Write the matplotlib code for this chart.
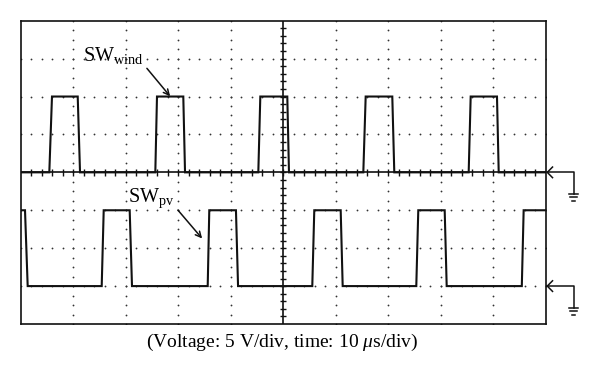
import numpy as np
import matplotlib
matplotlib.use('Agg')
from matplotlib import pyplot as plt

plt.rcParams['font.family'] = ['Liberation Serif', 'DejaVu Serif']
plt.rcParams['mathtext.fontset'] = 'custom'
plt.rcParams['mathtext.rm'] = 'Liberation Serif'
plt.rcParams['mathtext.it'] = 'Liberation Serif:italic'

# scope traces, in divisions (time div, voltage div)
wind_t = [0, 0.545, 0.596, 1.086, 1.13, 2.564, 2.596, 3.097, 3.13,
          4.526, 4.564, 5.078, 5.11, 6.526, 6.571, 7.078, 7.116,
          8.533, 8.571, 9.072, 9.105, 10]
wind_v = [0, 0, 2, 2, 0, 0, 2, 2, 0,
          0, 2, 2, 0, 0, 2, 2, 0,
          0, 2, 2, 0, 0]

pv_t = [0, 0.082, 0.133, 1.543, 1.581, 2.076, 2.12, 3.562, 3.592, 4.1, 4.14,
        5.554, 5.592, 6.095, 6.133, 7.535, 7.573, 8.076, 8.114, 9.545, 9.58, 10]
pv_v = [-1, -1, -3, -3, -1, -1, -3, -3, -1, -1, -3,
        -3, -1, -1, -3, -3, -1, -1, -3, -3, -1, -1]

ground_levels = [0, -3]
caption = '(Voltage: 5 V/div, time: 10 $\\mu$s/div)'

fig = plt.figure(figsize=(6, 3.78), dpi=100)
ax = fig.add_axes([20.7/600, 1-324/378, 525/600, 303.3/378])
ax.set_xlim(0, 10)
ax.set_ylim(-4, 4)
ax.set_xticks([])
ax.set_yticks([])
for s in ax.spines.values():
    s.set_linewidth(1.2)
    s.set_color('#111111')

# dotted graticule
for gx in range(1, 10):
    if gx == 5:
        continue
    yy = np.arange(-4, 4.01, 0.25)
    ax.plot(np.full_like(yy, gx), yy, ls='none', marker='o', ms=1.3, color='#333333', mew=0)
for gy in [-3, -2, -1, 1, 2, 3]:
    xx = np.arange(0, 10.01, 0.2)
    ax.plot(xx, np.full_like(xx, gy), ls='none', marker='o', ms=1.3, color='#333333', mew=0)

# centre cross with minor ticks
ax.axhline(0, color='#111111', lw=1.2)
ax.axvline(5, color='#111111', lw=1.2)
tx = np.arange(0.2, 10, 0.2)
ax.vlines(tx, -0.09, 0.09, color='#111111', lw=1.0)
ty = np.arange(-3.8, 4, 0.2)
ax.hlines(ty, 4.94, 5.06, color='#111111', lw=1.0)

# traces
ax.plot(wind_t, wind_v, color='#111111', lw=1.5, solid_joinstyle='miter')
ax.plot(pv_t, pv_v, color='#111111', lw=1.5, solid_joinstyle='miter')

# labels with arrows
ax.text(1.19, 2.94, r'SW$_{\mathrm{wind}}$', fontsize=14.5, va='baseline', ha='left')
ax.annotate('', xy=(2.88, 1.95), xytext=(2.37, 2.80),
            arrowprops=dict(arrowstyle='->', color='#111111', lw=1.1))
ax.text(2.04, -0.78, r'SW$_{\mathrm{pv}}$', fontsize=14.5, va='baseline', ha='left')
ax.annotate('', xy=(3.49, -1.80), xytext=(2.96, -0.94),
            arrowprops=dict(arrowstyle='->', color='#111111', lw=1.1))

# ground markers at right
for g in ground_levels:
    ax.plot([10.13, 10.03, 10.13], [g + 0.14, g, g - 0.14], color='#111111', lw=1.1, clip_on=False)
    ax.plot([10.03, 10.53, 10.53], [g, g, g - 0.57], color='#111111', lw=1.1, clip_on=False)
    ax.plot([10.44, 10.62], [g - 0.57, g - 0.57], color='#111111', lw=1.1, clip_on=False)
    ax.plot([10.47, 10.59], [g - 0.66, g - 0.66], color='#111111', lw=1.1, clip_on=False)
    ax.plot([10.50, 10.56], [g - 0.75, g - 0.75], color='#111111', lw=1.1, clip_on=False)

fig.text(282.5/600, 1-342/378, caption, fontsize=14, ha='center', va='center')

fig.savefig('out.png', dpi=100)
